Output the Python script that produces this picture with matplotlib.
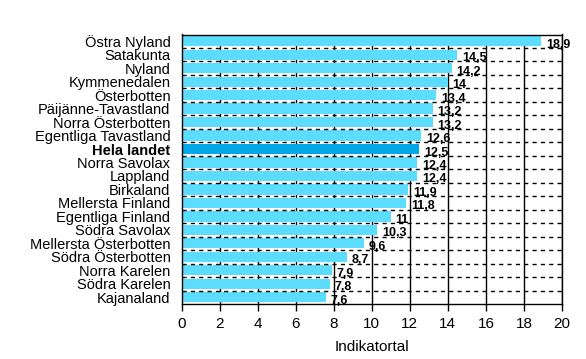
import matplotlib
matplotlib.use('Agg')
import matplotlib.pyplot as plt
import numpy as np

# data
regions = ['Östra Nyland', 'Satakunta', 'Nyland', 'Kymmenedalen', 'Österbotten',
           'Päijänne-Tavastland', 'Norra Österbotten', 'Egentliga Tavastland',
           'Hela landet', 'Norra Savolax', 'Lappland', 'Birkaland',
           'Mellersta Finland', 'Egentliga Finland', 'Södra Savolax',
           'Mellersta Österbotten', 'Södra Österbotten', 'Norra Karelen',
           'Södra Karelen', 'Kajanaland']
values = [18.9, 14.5, 14.2, 14, 13.4, 13.2, 13.2, 12.6, 12.5, 12.4, 12.4, 11.9,
          11.8, 11, 10.3, 9.6, 8.7, 7.9, 7.8, 7.6]
highlight = 'Hela landet'
xticks = list(range(0, 21, 2))

plt.rcParams['font.family'] = ['Liberation Sans', 'DejaVu Sans']

fig = plt.figure(figsize=(5.86, 3.59), dpi=100)
ax = fig.add_axes([181.5 / 586, 1 - 304 / 359, (562 - 181.5) / 586, (304 - 34.5) / 359])

n = len(regions)
y = np.arange(n)
colors = ['#00A8E8' if r == highlight else '#5CDCFF' for r in regions]
ax.barh(y, values, height=0.76, color=colors, zorder=2)

# vertical grid lines
for t in xticks[1:]:
    ax.axvline(t, color='black', lw=1, zorder=1)
# dashed lines between categories
for b in np.arange(0.5, n - 1, 1):
    ax.axhline(b, color='black', lw=1, ls=(0, (3, 3)), zorder=3)

# value labels
for yi, v in zip(y, values):
    txt = f'{v:g}'.replace('.', ',')
    ax.annotate(txt, (v, yi), xytext=(3.5, -2.5), textcoords='offset points',
                ha='left', va='center', fontsize=9, fontweight='bold',
                family=['Liberation Sans Narrow', 'Liberation Sans'], zorder=4)

ax.set_xlim(0, 20)
ax.set_ylim(n - 0.5, -0.5)
ax.set_xticks(xticks)
ax.set_xticklabels([str(t) for t in xticks], fontsize=11)
ax.set_yticks(y)
ax.set_yticklabels(regions, fontsize=10.5)
for lab in ax.get_yticklabels():
    if lab.get_text() == highlight:
        lab.set_fontweight('bold')
ax.tick_params(axis='y', length=0, pad=8)
ax.tick_params(axis='x', length=5, width=1, direction='out', pad=4, color='black')
for s in ax.spines.values():
    s.set_color('black')
    s.set_linewidth(1)
ax.set_xlabel('Indikatortal', fontsize=11, labelpad=7)

fig.savefig('out.png', dpi=100)
